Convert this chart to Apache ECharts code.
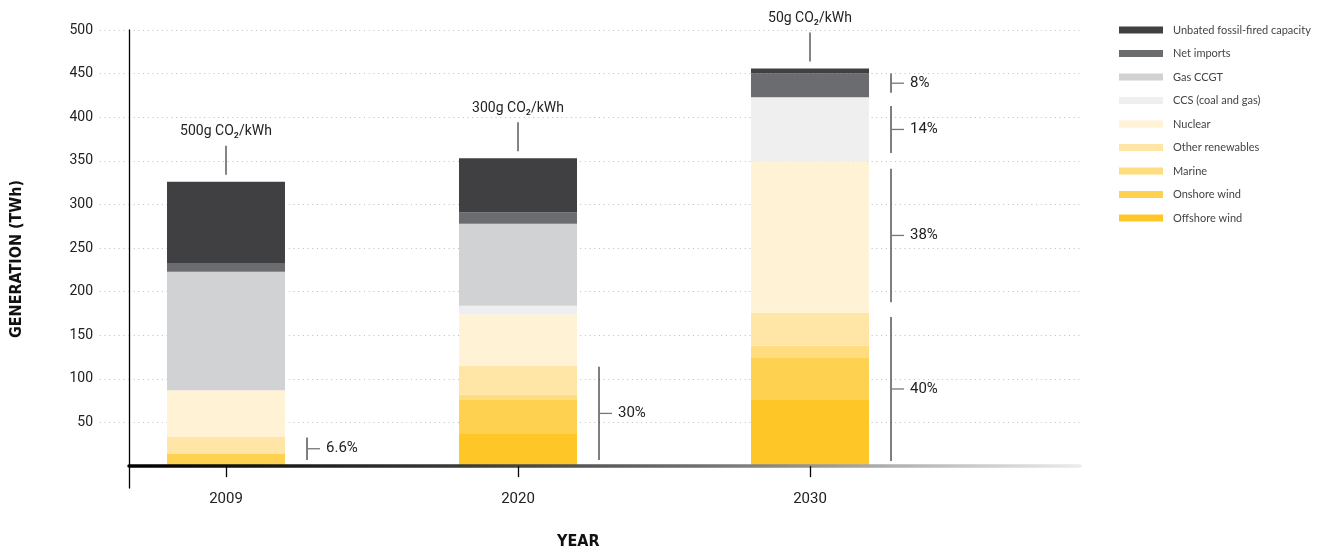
<!DOCTYPE html>
<html>
<head>
<meta charset="utf-8">
<title>Generation mix</title>
<script src="https://cdn.jsdelivr.net/npm/echarts@6/dist/echarts.min.js"></script>
<style>
  html, body { margin: 0; padding: 0; background: #ffffff; }
  #chart { width: 1320px; height: 550px; }
</style>
</head>
<body>
<div id="chart"></div>
<script>
// Generation by source, TWh
const years = ['2009', '2020', '2030'];
const offshoreWind    = [0, 37, 76];
const onshoreWind     = [14, 39, 48];
const marine          = [0, 6, 14];
const otherRenewables = [20, 33, 38];
const nuclear         = [53, 59, 173];
const ccsCoalGas      = [0, 10, 74];
const gasCCGT         = [136, 94, 0];
const netImports      = [10, 13, 27];
const unabatedFossil  = [93, 62, 6];

// Carbon intensity shown above each column
const intensityLabels = ['500g CO₂/kWh', '300g CO₂/kWh', '50g CO₂/kWh'];

// Share brackets: year index, from TWh, to TWh, label
const bracketYear  = [0, 1, 2, 2, 2, 2];
const bracketFrom  = [7, 7, 6, 188, 359, 428];
const bracketTo    = [33, 114, 171, 341, 413, 450];
const bracketText  = ['6.6%', '30%', '40%', '38%', '14%', '8%'];

const yTicks = [50, 100, 150, 200, 250, 300, 350, 400, 450, 500];
const xTicks = [0, 1, 2];

const layers = [
  { name: 'Offshore wind',                 data: offshoreWind,    color: '#ffc627' },
  { name: 'Onshore wind',                  data: onshoreWind,     color: '#ffd151' },
  { name: 'Marine',                        data: marine,          color: '#ffdc7d' },
  { name: 'Other renewables',              data: otherRenewables, color: '#ffe6a6' },
  { name: 'Nuclear',                       data: nuclear,         color: '#fff2d5' },
  { name: 'CCS (coal and gas)',            data: ccsCoalGas,      color: '#efefef' },
  { name: 'Gas CCGT',                      data: gasCCGT,         color: '#d1d2d4' },
  { name: 'Net imports',                   data: netImports,      color: '#6b6c70' },
  { name: 'Unbated fossil-fired capacity', data: unabatedFossil,  color: '#404042' }
];

const totals = years.map((_, i) => layers.reduce((s, l) => s + l.data[i], 0));

const BAR_WIDTH = 118;
const dotted = { color: '#bdbdbd', width: 1, type: [1, 3.7] };
const numFont = 'Roboto, "DejaVu Sans", sans-serif';
const headFont = '"DejaVu Sans Condensed", "Liberation Sans Narrow", Roboto, sans-serif';

// Value column first so that the stack is applied to the y dimension
const barSeries = layers.map(l => ({
  name: l.name,
  type: 'bar',
  stack: 'generation',
  barWidth: BAR_WIDTH,
  itemStyle: { color: l.color },
  emphasis: { disabled: true },
  encode: { x: 1, y: 0 },
  data: l.data.map((v, i) => [v, i])
}));

const intensitySeries = {
  type: 'custom',
  clip: false,
  silent: true,
  z: 5,
  encode: { x: 0, y: 1 },
  data: totals.map((t, i) => [i, t]),
  renderItem(params, api) {
    const p = api.coord([api.value(0), api.value(1)]);
    return {
      type: 'group',
      children: [
        { type: 'line', shape: { x1: p[0], y1: p[1] - 7, x2: p[0], y2: p[1] - 36 },
          style: { stroke: '#333333', lineWidth: 1.2 } },
        { type: 'text', style: {
            text: intensityLabels[params.dataIndex], x: p[0], y: p[1] - 50,
            align: 'center', verticalAlign: 'middle', fill: '#222222',
            fontSize: 14, fontFamily: numFont } }
      ]
    };
  }
};

const bracketSeries = {
  type: 'custom',
  clip: false,
  silent: true,
  z: 5,
  encode: { x: 0, y: [1, 2] },
  data: bracketYear.map((y, i) => [y, bracketFrom[i], bracketTo[i]]),
  renderItem(params, api) {
    const lo = api.coord([api.value(0), api.value(1)]);
    const hi = api.coord([api.value(0), api.value(2)]);
    const x = lo[0] + BAR_WIDTH / 2 + 22;
    const midY = (lo[1] + hi[1]) / 2;
    return {
      type: 'group',
      children: [
        { type: 'line', shape: { x1: x, y1: lo[1], x2: x, y2: hi[1] },
          style: { stroke: '#3a3a3a', lineWidth: 1.3 } },
        { type: 'line', shape: { x1: x, y1: midY, x2: x + 13, y2: midY },
          style: { stroke: '#777777', lineWidth: 1.3 } },
        { type: 'text', style: {
            text: bracketText[params.dataIndex], x: x + 19, y: midY,
            align: 'left', verticalAlign: 'middle', fill: '#222222',
            fontSize: 15, fontFamily: numFont } }
      ]
    };
  }
};

const chart = echarts.init(document.getElementById('chart'), null, { renderer: 'canvas' });

chart.setOption({
  animation: false,
  backgroundColor: '#ffffff',
  title: {
    text: 'YEAR',
    left: 552,
    top: 529,
    textStyle: { fontSize: 16, fontWeight: 'bold', color: '#111111', fontFamily: headFont }
  },
  legend: {
    orient: 'vertical',
    left: 1114,
    top: 18,
    icon: 'rect',
    itemWidth: 44,
    itemHeight: 7,
    itemGap: 9.5,
    selectedMode: false,
    data: layers.map(l => l.name).reverse(),
    textStyle: { fontFamily: 'Lato, "Open Sans", sans-serif', fontSize: 11, color: '#444444',
      lineHeight: 14, padding: [0, 0, 0, 5] }
  },
  grid: { left: 129, right: 240, top: 30, bottom: 62, containLabel: false },
  xAxis: {
    type: 'value',
    min: -0.3322,
    max: 2.9246,
    z: 3,
    splitLine: { show: false },
    axisLine: {
      onZero: true,
      lineStyle: {
        width: 3.5,
        color: new echarts.graphic.LinearGradient(0, 0, 1, 0, [
          { offset: 0, color: '#000000' },
          { offset: 0.35, color: '#3a3a3a' },
          { offset: 0.6, color: '#707070' },
          { offset: 0.8, color: '#b0b0b0' },
          { offset: 1, color: '#ececec' }
        ])
      }
    },
    axisTick: { show: true, customValues: xTicks, length: 11, lineStyle: { color: '#000000', width: 1.3 } },
    axisLabel: {
      customValues: xTicks,
      formatter: v => years[v] || '',
      margin: 4,
      fontSize: 15,
      color: '#222222',
      fontFamily: numFont
    }
  },
  yAxis: {
    type: 'value',
    min: -25,
    max: 500,
    name: 'GENERATION (TWh)',
    nameLocation: 'middle',
    nameRotate: 90,
    nameGap: 104,
    nameTextStyle: { fontSize: 16, fontWeight: 'bold', color: '#111111', fontFamily: headFont },
    axisLine: { show: true, onZero: false, lineStyle: { color: '#000000', width: 1.3 } },
    axisTick: { show: true, customValues: yTicks, length: 32, lineStyle: dotted },
    axisLabel: {
      customValues: yTicks,
      margin: 36,
      fontSize: 14,
      color: '#222222',
      fontFamily: numFont
    },
    splitLine: { show: true, lineStyle: dotted }
  },
  series: [...barSeries, intensitySeries, bracketSeries]
});
</script>
</body>
</html>
